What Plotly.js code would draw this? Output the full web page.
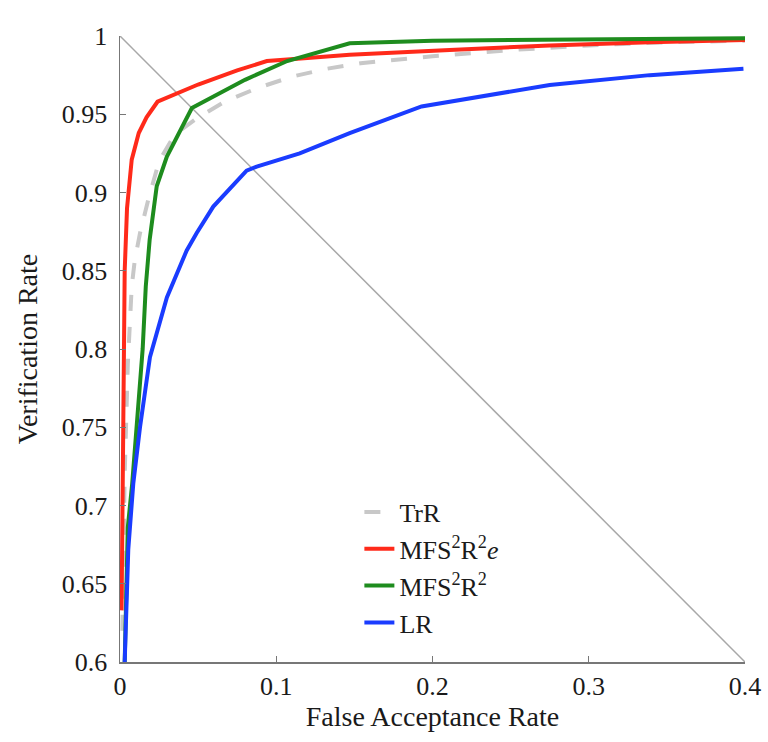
<!DOCTYPE html>
<html>
<head>
<meta charset="utf-8">
<script src="https://cdn.plot.ly/plotly-3.0.1.min.js"></script>
<style>html,body{margin:0;padding:0;background:#fff;}#chart{width:768px;height:742px;}</style>
</head>
<body>
<div id="chart"></div>
<script>
// Diagonal reference line (FAR + VR = 1)
const diagX = [0, 0.4];
const diagY = [1, 0.6];

// TrR (gray dashed)
const trrX = [0.0015, 0.002, 0.003, 0.005, 0.0075, 0.0095, 0.0128, 0.018, 0.025, 0.035, 0.05, 0.067, 0.0875, 0.11, 0.132, 0.154, 0.177, 0.2, 0.25, 0.3, 0.35, 0.4];
const trrY = [0.62, 0.66, 0.72, 0.79, 0.84, 0.857, 0.874, 0.895, 0.92, 0.937, 0.948, 0.958, 0.9666, 0.974, 0.979, 0.9826, 0.985, 0.987, 0.991, 0.994, 0.996, 0.997];

// MFS²R²e (red)
const redX = [0.001, 0.0015, 0.002, 0.003, 0.0045, 0.0075, 0.012, 0.017, 0.024, 0.05, 0.075, 0.094, 0.12, 0.147, 0.211, 0.275, 0.339, 0.4];
const redY = [0.633, 0.70, 0.78, 0.85, 0.89, 0.921, 0.938, 0.948, 0.958, 0.969, 0.978, 0.984, 0.986, 0.988, 0.991, 0.994, 0.996, 0.9975];

// MFS²R² (green)
const greenX = [0.003, 0.004, 0.005, 0.0078, 0.011, 0.0145, 0.0165, 0.019, 0.0235, 0.030, 0.046, 0.0576, 0.08, 0.107, 0.147, 0.2, 0.3, 0.4];
const greenY = [0.60, 0.65, 0.686, 0.714, 0.757, 0.80, 0.84, 0.87, 0.904, 0.923, 0.954, 0.960, 0.972, 0.984, 0.9953, 0.997, 0.998, 0.9985];

// LR (blue)
const blueX = [0.003, 0.0053, 0.0085, 0.0128, 0.0192, 0.030, 0.0427, 0.049, 0.0597, 0.081, 0.0875, 0.115, 0.147, 0.193, 0.275, 0.339, 0.399];
const blueY = [0.60, 0.672, 0.714, 0.750, 0.795, 0.833, 0.863, 0.874, 0.891, 0.914, 0.9165, 0.925, 0.938, 0.955, 0.9687, 0.975, 0.979];

const seriesNames = ['TrR', 'MFS<sup>2</sup>R<sup>2</sup><i>e</i>', 'MFS<sup>2</sup>R<sup>2</sup>', 'LR'];

const serif = '"Times New Roman", "Liberation Serif", serif';

const traces = [
  {x: diagX, y: diagY, mode: 'lines', line: {color: '#a8a8a8', width: 1.5}, showlegend: false, hoverinfo: 'skip'},
  {x: trrX, y: trrY, name: seriesNames[0], mode: 'lines', line: {color: '#c8c8c8', width: 4, dash: '16px,16px'}},
  {x: redX, y: redY, name: seriesNames[1], mode: 'lines', line: {color: '#ff2a1a', width: 4}},
  {x: greenX, y: greenY, name: seriesNames[2], mode: 'lines', line: {color: '#1e8c1e', width: 4}},
  {x: blueX, y: blueY, name: seriesNames[3], mode: 'lines', line: {color: '#1a3cff', width: 4}}
];

const layout = {
  width: 768, height: 742,
  margin: {l: 120, r: 23, t: 36, b: 80},
  paper_bgcolor: '#fff', plot_bgcolor: '#fff',
  font: {family: serif, color: '#1a1a1a', size: 26},
  xaxis: {
    range: [0, 0.4], dtick: 0.1, tick0: 0,
    showline: true, linecolor: '#777', linewidth: 1.5,
    ticks: 'inside', ticklen: 6, tickcolor: '#777',
    showgrid: false, zeroline: false,
    tickfont: {family: serif, size: 26},
    title: {text: 'False Acceptance Rate', font: {family: serif, size: 28}, standoff: 6}
  },
  yaxis: {
    range: [0.6, 1], dtick: 0.05, tick0: 0.6,
    showline: true, linecolor: '#777', linewidth: 1.5,
    ticks: 'inside', ticklen: 6, tickcolor: '#777',
    ticklabelstandoff: 6,
    showgrid: false, zeroline: false,
    tickfont: {family: serif, size: 26},
    title: {text: 'Verification Rate', font: {family: serif, size: 28}, standoff: 16}
  },
  legend: {
    x: 0.383, y: 0.277, xanchor: 'left', yanchor: 'top',
    bgcolor: 'rgba(255,255,255,0)', borderwidth: 0,
    font: {family: serif, size: 26}
  },
  showlegend: true
};

Plotly.newPlot('chart', traces, layout, {displayModeBar: false, staticPlot: true});
</script>
</body>
</html>
